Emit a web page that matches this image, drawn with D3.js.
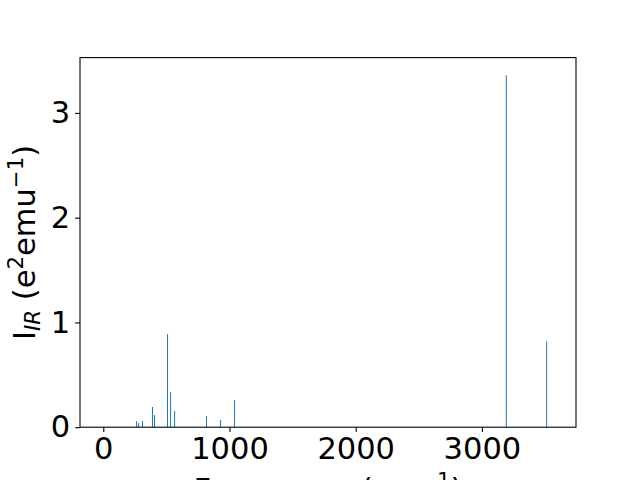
<!DOCTYPE html>
<html><head><meta charset="utf-8">
<script src="https://cdn.jsdelivr.net/npm/d3@7"></script>
<style>body{margin:0;background:#fff}svg{display:block}text{font-family:"DejaVu Sans",sans-serif}</style>
</head><body>
<script>
const frequencies = [264, 280, 311, 390, 406, 509, 533, 565, 818, 929, 1040, 3193, 3513];
const intensities = [0.059, 0.04, 0.059, 0.193, 0.116, 0.889, 0.336, 0.155, 0.107, 0.069, 0.26, 3.36, 0.82];
const xTicks = [0, 1000, 2000, 3000];
const yTicks = [0, 1, 2, 3];

const W = 640, H = 480;
const m = {left: 80, right: 576, top: 57.6, bottom: 427.2};
const fs = 30.5;
const svg = d3.select("body").append("svg").attr("width", W).attr("height", H);

const x = d3.scaleLinear().domain([-184.6, 3745.6]).range([m.left, m.right]);
const y = d3.scaleLinear().domain([0, 3.528]).range([m.bottom, m.top]);

svg.append("g").selectAll("rect").data(frequencies).join("rect")
  .attr("x", d => x(d) - 0.5)
  .attr("width", 1)
  .attr("y", (d, i) => y(intensities[i]))
  .attr("height", (d, i) => y(0) - y(intensities[i]))
  .attr("fill", "#1f77b4");

const xa = svg.append("g").attr("transform", `translate(0,${m.bottom})`)
  .call(d3.axisBottom(x).tickValues(xTicks).tickFormat(d3.format("d")).tickSize(4.9).tickPadding(4.9));
const ya = svg.append("g").attr("transform", `translate(${m.left},0)`)
  .call(d3.axisLeft(y).tickValues(yTicks).tickFormat(d3.format("d")).tickSize(4.9).tickPadding(4.9));
[xa, ya].forEach(a => {
  a.select(".domain").remove();
  a.selectAll("line").attr("stroke", "#000").attr("stroke-width", 1.1);
  a.selectAll("text").attr("font-size", fs).attr("fill", "#000").attr("font-family", "DejaVu Sans");
});

svg.append("rect").attr("x", m.left).attr("y", m.top)
  .attr("width", m.right - m.left).attr("height", m.bottom - m.top)
  .attr("fill", "none").attr("stroke", "#000").attr("stroke-width", 1.1);

// x label
const xl = svg.append("text").attr("x", (m.left + m.right) / 2).attr("y", 500)
  .attr("text-anchor", "middle").attr("font-size", fs);
xl.append("tspan").text("Frequency (cm");
xl.append("tspan").attr("dy", -12).attr("font-size", fs * 0.7).text("\u22121");
xl.append("tspan").attr("dy", 12).text(")");

// y label
const yl = svg.append("text")
  .attr("transform", `translate(35,${(m.top + m.bottom) / 2}) rotate(-90)`)
  .attr("text-anchor", "middle").attr("font-size", fs);
yl.append("tspan").text("I");
yl.append("tspan").attr("dy", 5).attr("font-size", fs * 0.7).attr("font-style", "italic").text("IR");
yl.append("tspan").attr("dy", -5).text(" (e");
yl.append("tspan").attr("dy", -12).attr("font-size", fs * 0.7).text("2");
yl.append("tspan").attr("dy", 12).text("emu");
yl.append("tspan").attr("dy", -12).attr("font-size", fs * 0.7).text("\u22121");
yl.append("tspan").attr("dy", 12).text(")");
</script>
</body></html>
